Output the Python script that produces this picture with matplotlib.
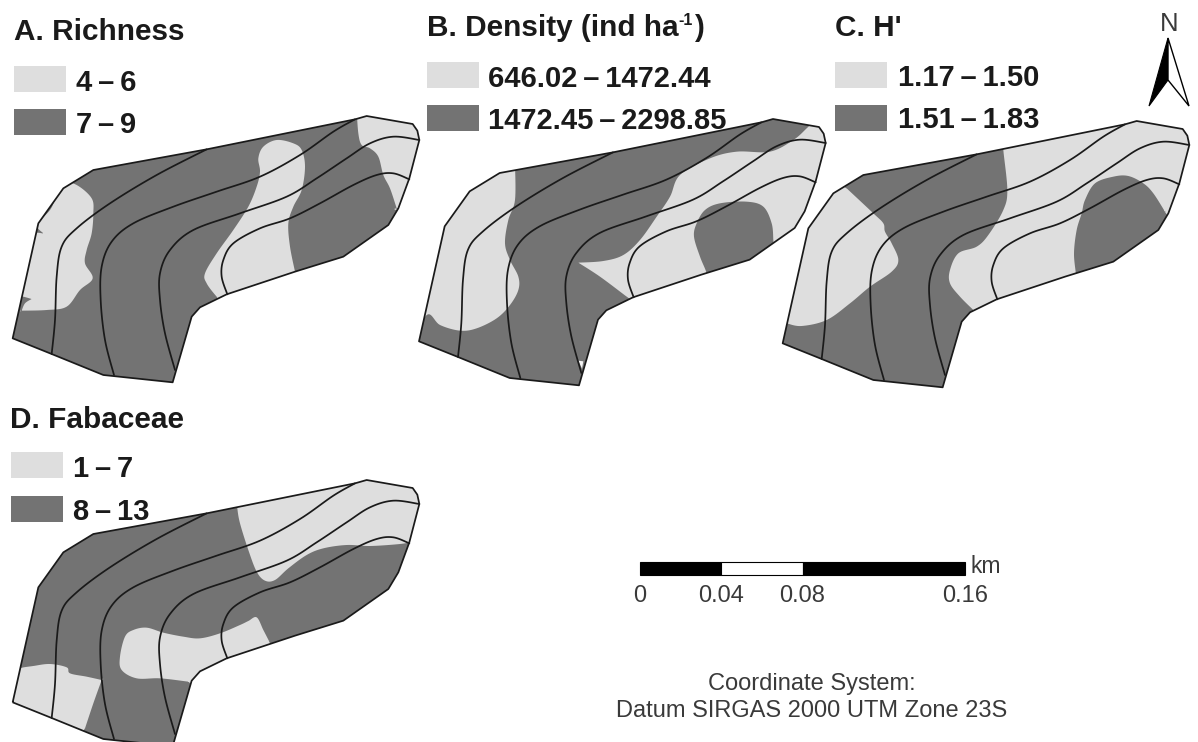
import matplotlib
matplotlib.use("Agg")
import matplotlib.pyplot as plt
from matplotlib.patches import Polygon, Rectangle
import numpy as np

plt.rcParams['font.family'] = ['Liberation Sans', 'DejaVu Sans']

LIGHT = '#dedede'
DARK = '#737373'
INK = '#1a1a1a'
SOFT = '#3a3a3a'

# Map geometry, in survey units (3 units = 1 output pixel)
outline = [(38,715),(155,762),(310,825),(518,847),(575,650),(600,622),(680,583),(885,515),(1030,470),
           (1165,375),(1195,325),(1228,235),(1258,120),(1252,92),(1238,72),(1100,48),(1065,58),(620,148),
           (280,210),(190,265),(115,370)]
contours = [
    [(155,762),(165,660),(170,530),(185,440),(230,385),(330,310),(470,225),(620,148)],
    [(342,825),(315,720),(302,600),(305,500),(335,425),(400,370),(520,320),(650,275),(780,230),(900,165),(1000,95),(1065,58)],
    [(525,810),(495,700),(480,600),(480,520),(510,450),(580,390),(720,340),(860,290),(950,235),(1040,175),(1110,130),(1180,110),(1258,120)],
    [(682,583),(665,530),(670,480),(700,430),(780,385),(870,355),(960,310),(1060,255),(1130,225),(1180,220),(1228,238)],
]

# Classified zones of each panel
richness_zones = [
    [(230,255),(275,295),(280,340),(275,400),(260,450),(255,490),(278,535),(240,570),(200,620),(140,630),(65,632),(65,632),(75,610),(95,597),(95,597),(70,590),(60,590),(80,520),(95,410),(130,400),(130,400),(112,375),(150,330),(165,300),(190,250)],
    [(830,120),(880,130),(905,150),(915,200),(905,270),(880,320),(865,370),(870,440),(885,515),(885,515),(900,570),(680,620),(650,590),(620,550),(615,520),(650,460),(700,390),(745,320),(770,260),(780,215),(775,175),(790,140)],
    [(1070,30),(1070,30),(1075,100),(1085,135),(1110,145),(1135,170),(1150,225),(1170,265),(1190,325),(1190,325),(1290,320),(1290,320),(1290,30),(1290,30)],
]
density_zones = [
    [(315,190),(315,190),(1085,30),(1085,30),(1215,60),(1215,60),(1190,85),(1150,120),(1080,155),(980,155),(900,175),(810,225),(780,290),(740,350),(690,420),(640,465),(580,483),(505,488),(505,488),(570,530),(650,590),(650,590),(720,640),(720,640),(530,900),(530,900),(295,880),(140,800),(0,745),(0,745),(50,645),(90,675),(150,692),(200,685),(260,655),(300,615),(325,570),(325,530),(300,480),(285,430),(295,360),(315,300)],
    [(860,370),(885,330),(930,310),(1010,305),(1060,320),(1085,370),(1090,420),(1090,420),(1100,540),(1100,540),(895,560),(895,560),(890,520),(870,470),(852,410)],
]
density_gap = [(505,782),(520,784),(516,806)]
h_zones = [
    [(230,265),(230,265),(310,340),(340,370),(345,395),(365,430),(385,480),(365,515),(300,560),(240,610),(170,660),(95,678),(50,670),(50,670),(0,760),(0,760),(150,810),(310,880),(540,900),(540,900),(620,660),(610,630),(610,630),(570,590),(540,550),(540,510),(565,460),(620,440),(655,405),(700,330),(712,270),(700,150),(700,120),(700,120),(280,190),(190,240),(190,240)],
    [(945,300),(975,250),(1030,230),(1075,228),(1120,250),(1150,280),(1185,335),(1185,335),(1215,420),(1030,540),(920,560),(920,560),(918,525),(912,460),(920,390),(935,340)],
]
fabaceae_zones = [
    [(712,125),(712,125),(712,145),(720,190),(745,270),(770,335),(795,362),(825,360),(865,325),(920,285),(970,265),(1040,255),(1110,258),(1200,252),(1240,245),(1240,245),(1300,200),(1300,200),(1290,30),(1290,30),(1090,30),(1090,30)],
    [(400,510),(440,503),(490,518),(550,530),(600,535),(660,520),(720,495),(745,483),(770,472),(790,510),(808,545),(808,545),(830,610),(830,610),(640,660),(590,680),(565,665),(565,665),(480,655),(410,655),(365,630),(360,590),(375,530)],
    [(0,770),(0,770),(45,640),(60,625),(100,618),(150,612),(200,622),(210,640),(260,650),(305,660),(305,660),(280,730),(255,805),(255,805),(240,830),(240,830),(100,800),(100,800)],
]

panel_names = ['A. Richness', 'B. Density (ind ha', "C. H'", 'D. Fabaceae']
class_low = ['4\u2009\u2013\u20096', '646.02\u2009\u2013\u20091472.44', '1.17\u2009\u2013\u20091.50', '1\u2009\u2013\u20097']
class_high = ['7\u2009\u2013\u20099', '1472.45\u2009\u2013\u20092298.85', '1.51\u2009\u2013\u20091.83', '8\u2009\u2013\u200913']
scale_labels = ['0', '0.04', '0.08', '0.16']
scale_stops_km = [0, 0.04, 0.08, 0.16]

fig = plt.figure(figsize=(11.98, 7.42), dpi=100)
ax = fig.add_axes([0, 0, 1, 1])
ax.set_xlim(0, 1198)
ax.set_ylim(742, 0)
ax.axis('off')


def smooth(points, closed, n=10):
    """Catmull-Rom curve through the traced points."""
    p = np.asarray(points, float)
    if closed:
        q = np.vstack([p[-1], p, p[0], p[1]])
    else:
        q = np.vstack([p[0], p, p[-1]])
    t = np.linspace(0, 1, n, endpoint=False)[:, None]
    out = []
    for i in range(1, len(q) - 2):
        a, b, c, d = q[i-1], q[i], q[i+1], q[i+2]
        out.append(0.5*((2*b) + (c - a)*t + (2*a - 5*b + 4*c - d)*t**2 + (3*b - a - 3*c + d)*t**3))
    out = np.vstack(out)
    return out if closed else np.vstack([out, p[-1]])


def draw_map(origin, shift, base, zone_color, zones, gap=None):
    def to_px(pts):
        return np.asarray(origin) + np.asarray(pts, float) / 3.0
    edge = to_px(np.asarray(outline, float) + shift)
    clip = Polygon(edge, closed=True, facecolor=base, edgecolor='none', zorder=1)
    ax.add_patch(clip)
    for z in zones:
        patch = Polygon(to_px(smooth(z, True)), closed=True, facecolor=zone_color, edgecolor='none', zorder=2)
        ax.add_patch(patch)
        patch.set_clip_path(clip)
    if gap is not None:
        ax.add_patch(Polygon(to_px(gap), closed=True, facecolor='#f4f4f4', edgecolor='none', zorder=2.5))
    for c in contours:
        xy = to_px(smooth(np.asarray(c, float) + shift, False))
        ax.plot(xy[:, 0], xy[:, 1], color=INK, lw=1.25, zorder=3, solid_capstyle='round')
    ax.add_patch(Polygon(edge, closed=True, facecolor='none', edgecolor=INK, lw=1.25, zorder=4, joinstyle='round'))


draw_map((0, 100), (0, 0), DARK, LIGHT, richness_zones)
draw_map((410, 100), (-11, 9), LIGHT, DARK, density_zones, density_gap)
draw_map((770, 100), (0, 15), LIGHT, DARK, h_zones)
draw_map((0, 460), (0, 12), DARK, LIGHT, fabaceae_zones)


def legend(i, tx, ty, bx, lx, by0, by1, tl0, tl1):
    ax.text(tx, ty, panel_names[i], fontsize=21.4, fontweight='bold', color=INK, va='baseline', ha='left', zorder=6)
    ax.add_patch(Rectangle((bx, by0), 52, 26, facecolor=LIGHT, edgecolor='none', zorder=5))
    ax.add_patch(Rectangle((bx, by1), 52, 26, facecolor=DARK, edgecolor='none', zorder=5))
    ax.text(lx, tl0, class_low[i], fontsize=21, fontweight='bold', color=INK, va='baseline', ha='left', zorder=6)
    ax.text(lx, tl1, class_high[i], fontsize=21, fontweight='bold', color=INK, va='baseline', ha='left', zorder=6)


legend(0, 14, 40, 14, 76, 66, 108.5, 91, 133)
legend(1, 427, 36, 427, 488, 62, 105, 87, 129)
legend(2, 835, 36, 835, 898, 62, 105, 86, 128)
legend(3, 10, 428, 11, 73, 452, 496, 477, 520)

ax.text(678, 25, '-1', fontsize=11.5, fontweight='bold', color=INK, va='baseline', ha='left', zorder=6)
ax.text(695, 36, ')', fontsize=21.4, fontweight='bold', color=INK, va='baseline', ha='left', zorder=6)

# Scale bar
bar_x0, bar_px_per_km = 640.0, 325.0 / 0.16
for j in range(3):
    a, b = scale_stops_km[j], scale_stops_km[j + 1]
    ax.add_patch(Rectangle((bar_x0 + a*bar_px_per_km, 562), (b - a)*bar_px_per_km, 13,
                           facecolor='white' if j == 1 else 'black', edgecolor='black', lw=0.8, zorder=5))
for km, s in zip(scale_stops_km, scale_labels):
    ax.text(bar_x0 + km*bar_px_per_km, 602, s, fontsize=17, color=SOFT, ha='center', va='baseline')
ax.text(970, 573, 'km', fontsize=16.5, color=SOFT, ha='left', va='baseline')

ax.text(812, 690, 'Coordinate System:', fontsize=17, color=SOFT, ha='center', va='baseline')
ax.text(812, 717, 'Datum SIRGAS 2000 UTM Zone 23S', fontsize=17, color=SOFT, ha='center', va='baseline')

# North arrow
ax.text(1169, 31, 'N', fontsize=18.5, color=SOFT, ha='center', va='baseline')
ax.add_patch(Polygon([(1168, 38), (1149, 106), (1168, 80)], closed=True, facecolor='black', edgecolor='black', lw=0.8, zorder=5))
ax.add_patch(Polygon([(1168, 38), (1189, 106), (1168, 80)], closed=True, facecolor='white', edgecolor='black', lw=1.0, zorder=5))

fig.savefig('out.png', dpi=100, facecolor='white')
